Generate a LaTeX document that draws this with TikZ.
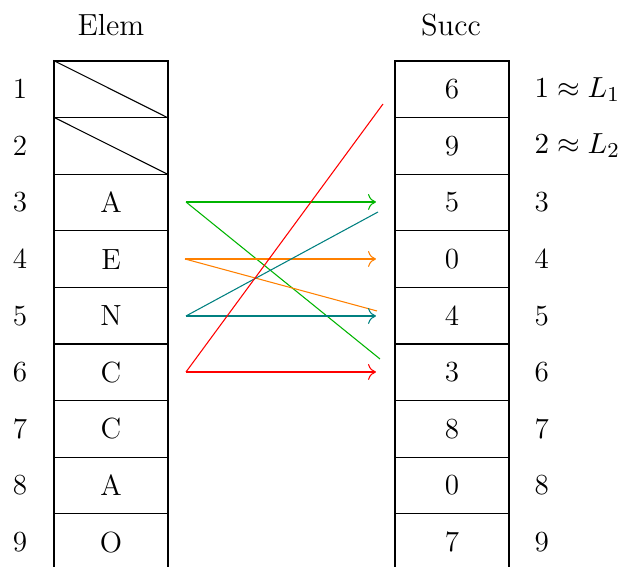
\documentclass[tikz,border=0pt]{standalone}
\usetikzlibrary{arrows.meta}
\begin{document}
\begin{tikzpicture}[x=0.01326cm,y=-0.01326cm,
  every node/.style={font=\fontsize{11pt}{13.5pt}\selectfont},
  head/.style={inner sep=0pt,anchor=center,font=\fontsize{11.5pt}{14pt}\selectfont},
  cell/.style={draw,line width=0.4pt,minimum width=1.512cm,minimum height=0.7506cm,inner sep=0pt,anchor=center},
  lbl/.style={inner sep=0pt,anchor=center},
  rlbl/.style={inner sep=0pt,anchor=west},
  link/.style={line width=0.4pt,-{To[length=3pt,width=6pt]}},
  plain/.style={line width=0.4pt},
  mygreen/.style={draw={rgb,255:red,0;green,180;blue,0}},
  myorange/.style={draw={rgb,255:red,255;green,128;blue,0}},
  myteal/.style={draw={rgb,255:red,0;green,128;blue,128}},
  myred/.style={draw={rgb,255:red,255;green,0;blue,0}}]
\useasboundingbox (0,0) rectangle (620,567);
\clip (0,0) rectangle (620,567);
\node[head] (helem) at (111,25) {Elem};
\node[head] (hsucc) at (451,25) {Succ};
\foreach \i/\e/\s/\r in {1//6/{$1\approx L_1$},2//9/{$2\approx L_2$},3/A/5/3,4/E/0/4,5/N/4/5,6/C/3/6,7/C/8/7,8/A/0/8,9/O/7/9}{
  \pgfmathsetmacro{\yc}{89.3+56.6*(\i-1)}
  \node[lbl] (n\i) at (20,\yc) {\i};
  \node[cell] (e\i) at (111,\yc) {\e};
  \node[cell] (s\i) at (452,\yc) {\s};
  \node[rlbl] (r\i) at (534,\yc) {\r};
}
\draw[line width=0.4pt] (e1.north west) -- (e1.south east);
\draw[line width=0.4pt] (e2.north west) -- (e2.south east);
% start and end points
\coordinate (a3) at (186,202);
\coordinate (a4) at (185,259);
\coordinate (a5) at (186,316);
\coordinate (a6) at (186,372);
\coordinate (b3) at (376,202);
\coordinate (b4) at (376,259);
\coordinate (b5) at (376,316);
\coordinate (b6) at (376,372);
\coordinate (cg) at (380,359);
\coordinate (co) at (377,311);
\coordinate (ct) at (378,212);
\coordinate (cr) at (383,104);
\draw[link,mygreen] (a3) -- (b3);
\draw[plain,mygreen] (a3) -- (cg);
\draw[link,myorange] (a4) -- (b4);
\draw[plain,myorange] (a4) -- (co);
\draw[link,myteal] (a5) -- (b5);
\draw[plain,myteal] (a5) -- (ct);
\draw[link,myred] (a6) -- (b6);
\draw[plain,myred] (a6) -- (cr);
\end{tikzpicture}
\end{document}
